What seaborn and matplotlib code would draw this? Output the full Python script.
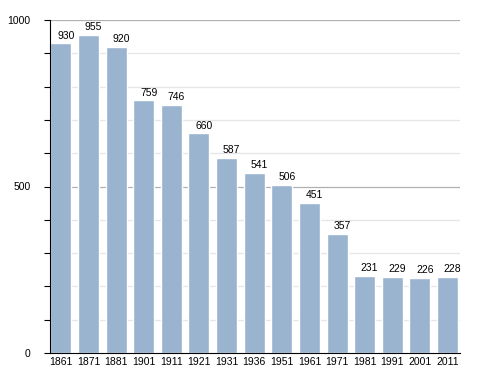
import matplotlib
matplotlib.use("Agg")
import matplotlib.pyplot as plt
import seaborn as sns
import pandas as pd

years = ['1861', '1871', '1881', '1901', '1911', '1921', '1931', '1936',
         '1951', '1961', '1971', '1981', '1991', '2001', '2011']
population = [930, 955, 920, 759, 746, 660, 587, 541, 506, 451, 357, 231, 229, 226, 228]

df = pd.DataFrame({'Year': years, 'Population': population})

sns.set_style('white')
plt.rcParams['font.family'] = ['Liberation Sans', 'DejaVu Sans']
plt.rcParams['text.color'] = 'black'
plt.rcParams['xtick.color'] = 'black'
plt.rcParams['ytick.color'] = 'black'

fig = plt.figure(figsize=(4.88, 3.73), dpi=100)
ax = fig.add_axes([50 / 488, 20 / 373, 410 / 488, 333 / 373])

# grid lines every 100, darker at 500 and 1000
for v in range(100, 1001, 100):
    c = '#b0b0b0' if v % 500 == 0 else '#e6e6e6'
    ax.axhline(v, color=c, lw=0.9, zorder=0)

sns.barplot(data=df, x='Year', y='Population', color='#9ab3cf', width=0.76,
            saturation=1, ax=ax, zorder=2)

for i, v in enumerate(population):
    ax.text(i + 0.18, v + 8, str(v), ha='center', va='bottom', fontsize=7.5)

ax.set_ylim(0, 1000)
ax.set_xlim(-0.39, 14.45)
ax.set_yticks([0, 500, 1000])
ax.set_yticks(range(0, 1001, 100), minor=True)
ax.tick_params(axis='y', which='both', direction='out', length=4, width=0.8,
               left=True, labelsize=7.5, pad=10)
ax.tick_params(axis='x', length=0, labelsize=7.5, pad=3)
ax.set_xlabel('')
ax.set_ylabel('')
for s in ['top', 'right']:
    ax.spines[s].set_visible(False)
ax.spines['left'].set_color('black')
ax.spines['bottom'].set_color('black')

fig.savefig('out.png', dpi=100)
